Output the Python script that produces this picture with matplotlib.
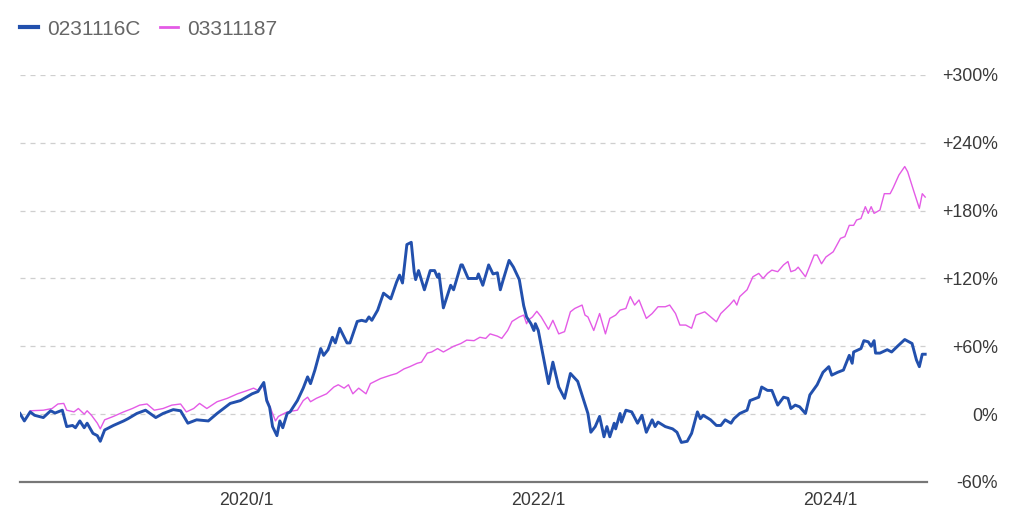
import matplotlib
matplotlib.use("Agg")
import matplotlib.pyplot as plt
from matplotlib.lines import Line2D

plt.rcParams['font.family'] = ['Liberation Sans', 'DejaVu Sans']

series_names = ["0231116C", "03311187"]

blue_t = [2018.45, 2018.48, 2018.52, 2018.55, 2018.61, 2018.66, 2018.69, 2018.74, 2018.77, 2018.81,
          2018.83, 2018.86, 2018.89, 2018.91, 2018.95, 2018.98, 2019.00, 2019.03, 2019.09, 2019.16,
          2019.19, 2019.25, 2019.31, 2019.38, 2019.43, 2019.50, 2019.55, 2019.60, 2019.66, 2019.74,
          2019.80, 2019.89, 2019.96, 2020.04, 2020.08, 2020.12, 2020.14, 2020.16, 2020.18, 2020.21,
          2020.23, 2020.25, 2020.28, 2020.30, 2020.35, 2020.39, 2020.42, 2020.44, 2020.47, 2020.51,
          2020.53, 2020.56, 2020.59, 2020.61, 2020.64, 2020.69, 2020.71, 2020.76, 2020.79, 2020.82,
          2020.84, 2020.86, 2020.90, 2020.94, 2020.96, 2020.99, 2021.03, 2021.05, 2021.07, 2021.10,
          2021.13, 2021.15, 2021.16, 2021.18, 2021.22, 2021.26, 2021.29, 2021.31, 2021.32, 2021.35,
          2021.40, 2021.42, 2021.47, 2021.48, 2021.52, 2021.58, 2021.59, 2021.62, 2021.66, 2021.69,
          2021.72, 2021.74, 2021.76, 2021.80, 2021.83, 2021.87, 2021.90, 2021.92, 2021.95, 2021.97,
          2021.98, 2022.00, 2022.07, 2022.10, 2022.14, 2022.18, 2022.22, 2022.27, 2022.34, 2022.36,
          2022.39, 2022.42, 2022.45, 2022.47, 2022.49, 2022.52, 2022.53, 2022.56, 2022.57, 2022.60,
          2022.64, 2022.68, 2022.71, 2022.74, 2022.78, 2022.80, 2022.82, 2022.87, 2022.92, 2022.95,
          2022.98, 2023.02, 2023.05, 2023.09, 2023.11, 2023.13, 2023.18, 2023.22, 2023.25, 2023.28,
          2023.32, 2023.34, 2023.38, 2023.43, 2023.45, 2023.49, 2023.51, 2023.53, 2023.57, 2023.60,
          2023.64, 2023.68, 2023.71, 2023.73, 2023.76, 2023.79, 2023.83, 2023.86, 2023.91, 2023.95,
          2023.99, 2024.01, 2024.05, 2024.09, 2024.13, 2024.15, 2024.16, 2024.21, 2024.23, 2024.26,
          2024.28, 2024.30, 2024.31, 2024.34, 2024.39, 2024.42, 2024.46, 2024.51, 2024.56, 2024.59,
          2024.61, 2024.63, 2024.65]
blue_v = [0.6, -6, 2, -1, -3, 3, 1, 3.5, -11, -10,
          -12, -6, -12, -8, -17, -19, -24, -14, -10, -6,
          -4, 0.6, 3.5, -3, 0.6, 4, 3, -8, -5, -6,
          0.6, 9.5, 12, 18, 20, 28, 12, 6, -11, -19,
          -6, -12, 0.6, 2, 12, 23, 33, 27, 39, 58,
          52, 57, 68, 63, 76, 63, 63, 82, 83, 82,
          86, 83, 92, 107, 105, 102, 117, 123, 116, 150,
          152, 126, 119, 127, 110, 127, 127, 121, 124, 94,
          114, 110, 132, 132, 120, 120, 124, 114, 132, 124,
          125, 110, 119, 136, 130, 119, 96, 86, 80, 74,
          80, 74, 27, 46, 24, 14, 36, 29, 0.6, -16,
          -11, -2, -20, -11, -20, -8, -13, 0.6, -7, 3.5,
          2, -8, -1, -16, -5, -11, -7, -11, -13, -16,
          -25, -24, -17, 2, -4, -1, -5, -10, -10, -5,
          -8, -4, 0.6, 3.5, 12, 14, 15, 24, 21, 21,
          8, 15, 14, 5, 8, 6.5, 0.6, 17, 26, 37,
          42, 34.5, 37, 39, 52, 45, 55, 58, 65, 64,
          60, 65, 54, 54, 57, 55, 60, 66, 62.5, 48,
          42, 53, 53]

pink_t = [2018.52, 2018.61, 2018.67, 2018.71, 2018.75, 2018.77, 2018.82, 2018.85, 2018.89, 2018.91,
          2018.94, 2018.98, 2019.00, 2019.03, 2019.09, 2019.16, 2019.22, 2019.27, 2019.32, 2019.37,
          2019.43, 2019.49, 2019.55, 2019.59, 2019.64, 2019.68, 2019.73, 2019.80, 2019.87, 2019.94,
          2020.00, 2020.05, 2020.08, 2020.11, 2020.14, 2020.17, 2020.20, 2020.22, 2020.28, 2020.35,
          2020.39, 2020.42, 2020.44, 2020.48, 2020.55, 2020.60, 2020.63, 2020.67, 2020.70, 2020.73,
          2020.77, 2020.82, 2020.85, 2020.92, 2020.99, 2021.03, 2021.08, 2021.12, 2021.17, 2021.20,
          2021.24, 2021.27, 2021.31, 2021.35, 2021.42, 2021.47, 2021.51, 2021.56, 2021.60, 2021.64,
          2021.67, 2021.72, 2021.75, 2021.79, 2021.82, 2021.87, 2021.90, 2021.92, 2021.93, 2021.96,
          2021.99, 2022.02, 2022.07, 2022.10, 2022.14, 2022.18, 2022.22, 2022.25, 2022.30, 2022.32,
          2022.34, 2022.38, 2022.42, 2022.44, 2022.46, 2022.49, 2022.53, 2022.56, 2022.60, 2022.63,
          2022.66, 2022.69, 2022.74, 2022.78, 2022.82, 2022.87, 2022.90, 2022.94, 2022.97, 2023.01,
          2023.05, 2023.08, 2023.11, 2023.14, 2023.22, 2023.25, 2023.31, 2023.34, 2023.36, 2023.38,
          2023.43, 2023.47, 2023.51, 2023.54, 2023.57, 2023.60, 2023.64, 2023.68, 2023.71, 2023.73,
          2023.76, 2023.78, 2023.83, 2023.89, 2023.91, 2023.94, 2023.97, 2024.02, 2024.07, 2024.10,
          2024.13, 2024.16, 2024.18, 2024.21, 2024.24, 2024.26, 2024.28, 2024.30, 2024.34, 2024.37,
          2024.41, 2024.43, 2024.47, 2024.51, 2024.53, 2024.57, 2024.61, 2024.63, 2024.65]
pink_v = [3, 3.5, 5, 9, 9.5, 3.5, 2, 5, 0, 3,
          -1, -8, -13, -5, -2, 2, 5, 8, 9, 3.5,
          5, 8, 9, 2, 5, 9.5, 5, 11, 14, 18,
          20.6, 23, 21, 26.5, 14, 4, -6, -2, 2, 3.5,
          12, 15, 11, 14, 18, 24, 26, 23, 26, 18,
          23, 18, 27, 31.5, 34.5, 36, 40, 42, 45, 46,
          54, 55, 58, 55, 60, 62.5, 65.5, 65, 68, 67,
          71, 69, 67, 74, 82, 86, 87.6, 80, 83, 86,
          91, 86, 75, 83, 71, 73, 90.5, 93.5, 96.5, 87.6,
          86, 74, 89, 80, 71, 84.7, 87.6, 92, 93.5, 104,
          96.5, 101, 84.7, 89, 95, 95, 96.5, 89, 78.8, 78.8,
          76, 87.6, 89, 90.5, 81.7, 89, 96.5, 101, 96.5, 104,
          110, 121.5, 124.5, 120, 124.5, 127.4, 126, 132, 135, 126,
          127.4, 130, 121.5, 140.7, 140.7, 133, 139, 143.6, 155.5, 157,
          167, 167, 171.7, 173, 183.5, 177.6, 183.5, 177.6, 180.5, 195,
          195, 200, 211.5, 219, 214.4, 198, 182, 195, 192]

y_ticks = [-60, 0, 60, 120, 180, 240, 300]
y_labels = ["-60%", "0%", "+60%", "+120%", "+180%", "+240%", "+300%"]
x_ticks = [2020, 2022, 2024]
x_labels = ["2020/1", "2022/1", "2024/1"]

blue_color = "#2250ad"
pink_color = "#e45be6"

fig = plt.figure(figsize=(10.24, 5.17), dpi=100)
ax = fig.add_axes([0.0195, 0.0677, 0.886, 0.7873])

ax.plot(pink_t, pink_v, color=pink_color, lw=1.0, zorder=3)
ax.plot(blue_t, blue_v, color=blue_color, lw=2.1, zorder=4)

ax.set_xlim(2018.45, 2024.664)
ax.set_ylim(-60, 300)

ax.set_yticks(y_ticks)
ax.set_yticklabels(y_labels)
ax.yaxis.tick_right()
ax.tick_params(axis='y', length=0, pad=51, labelsize=12.8, labelcolor="#3a3a3a")
for lab in ax.get_yticklabels():
    lab.set_horizontalalignment('right')

ax.set_xticks(x_ticks)
ax.set_xticklabels(x_labels)
ax.tick_params(axis='x', length=0, pad=7, labelsize=12.8, labelcolor="#3a3a3a")

ax.grid(axis='y', color="#cfcfcf", linestyle=(0, (4, 4)), linewidth=0.9)
ax.grid(axis='x', visible=False)
for s in ["top", "right", "left"]:
    ax.spines[s].set_visible(False)
ax.spines["bottom"].set_color("#777777")
ax.spines["bottom"].set_linewidth(1.6)
ax.spines["bottom"].set_zorder(5)

handles = [Line2D([0], [0], color=blue_color, lw=3.0),
           Line2D([0], [0], color=pink_color, lw=2.0)]
fig.legend(handles, series_names, loc='upper left', bbox_to_anchor=(0.0195, 0.962),
           ncol=2, frameon=False, fontsize=15, labelcolor="#666666",
           borderpad=0, borderaxespad=0,
           handlelength=0.87, handletextpad=0.43, columnspacing=0.95)

fig.savefig("out.png", dpi=100)
